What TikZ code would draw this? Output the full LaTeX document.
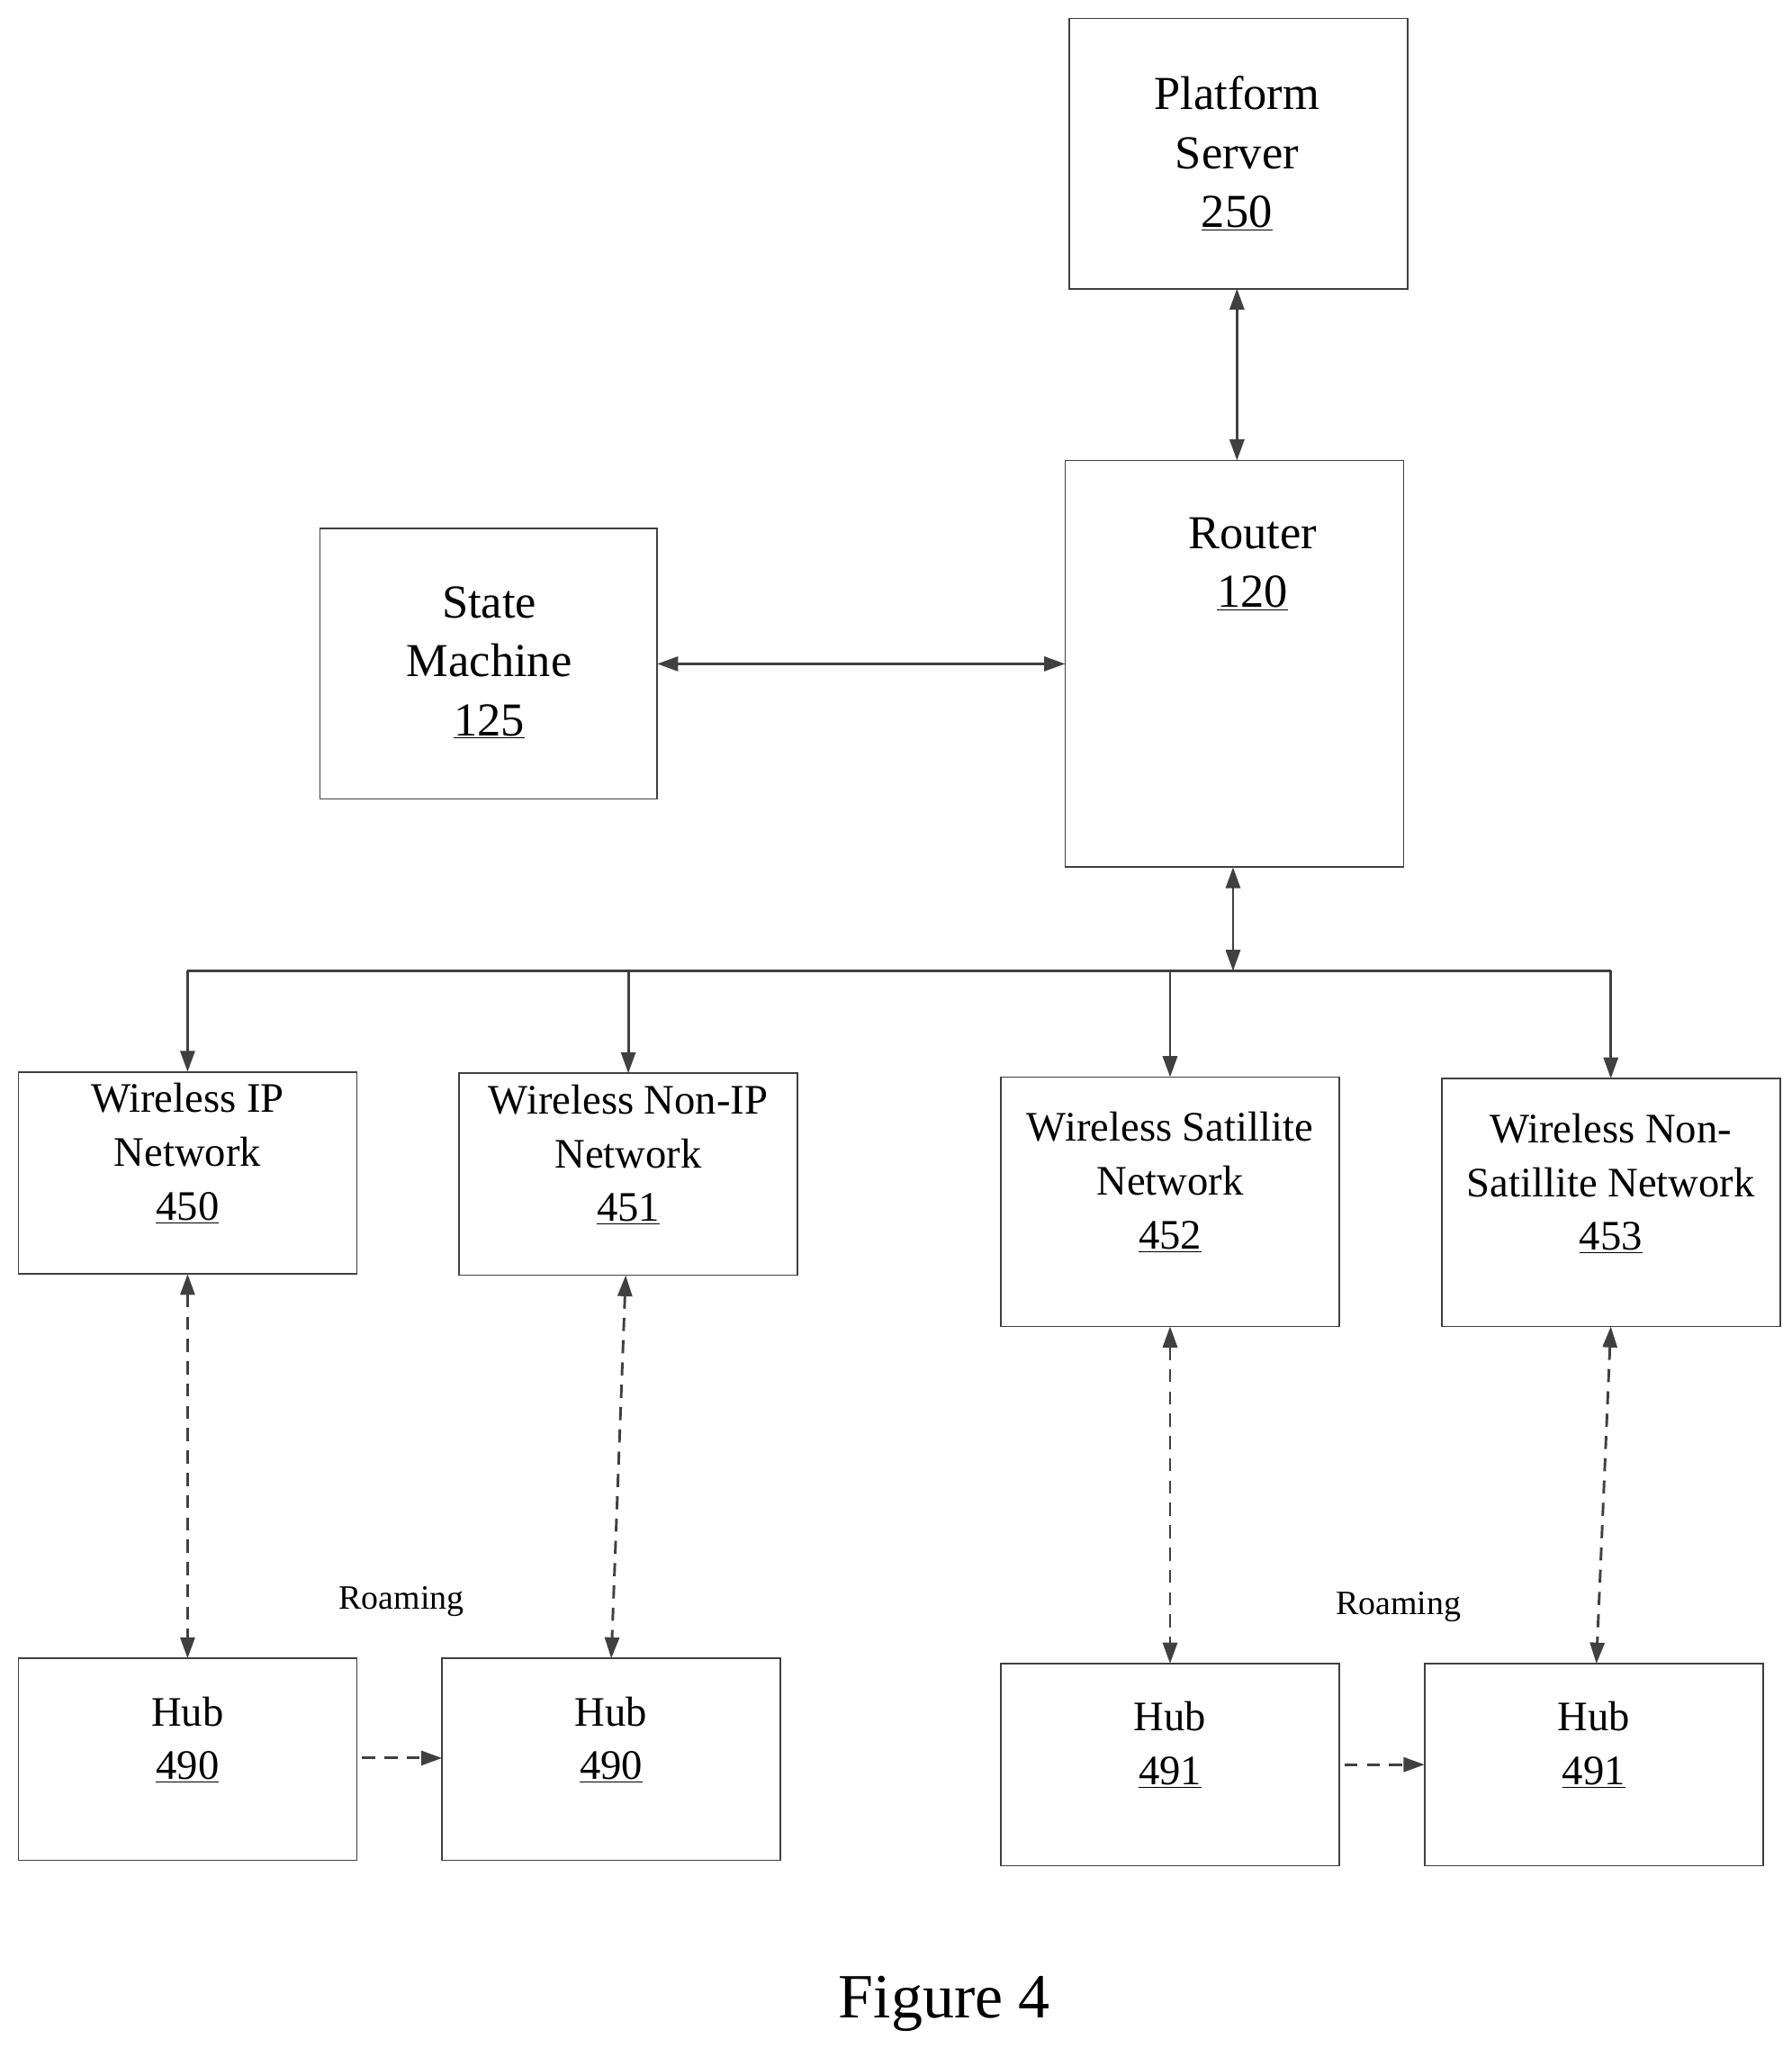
\documentclass[tikz,border=0pt]{standalone}
\usepackage{fontspec}
\setmainfont{Liberation Serif}
\usetikzlibrary{arrows.meta}
\begin{document}
\begin{tikzpicture}[x=1pt,y=-1pt,
 box/.style={draw=black!75,line width=1.2pt},
 lbl/.style={align=center,font=\fontsize{36}{48}\selectfont,inner sep=0},
 con/.style={draw=black!75,line width=2pt,-{Triangle[length=16pt,width=11pt]}},
 dcon/.style={con,{Triangle[length=16pt,width=11pt]}-{Triangle[length=16pt,width=11pt]},dash pattern=on 10pt off 7pt}]
\useasboundingbox (0,0) rectangle (1366,1561);
\newcommand{\bx}[5]{\path[box] (#2,#3) rectangle (#4,#5); \coordinate (#1) at ({(#2+#4)/2},{(#3+#5)/2});}
\bx{ps}{815}{14}{1073}{220}
\bx{rt}{812}{351}{1070}{661}
\bx{sm}{244}{403}{501}{609}
\bx{n0}{14}{817}{272}{971}
\bx{n1}{350}{818}{608}{972}
\bx{n2}{763}{821}{1021}{1011}
\bx{n3}{1099}{822}{1357}{1011}
\bx{h0}{14}{1264}{272}{1418}
\bx{h1}{337}{1264}{595}{1418}
\bx{h2}{763}{1268}{1021}{1422}
\bx{h3}{1086}{1268}{1344}{1422}
\node[lbl] (tps) at (943,117) {Platform\\[-3pt]Server\\[-3pt]\underline{250}};
\node[lbl] (trt) at (955,430) {Router\\[-3pt]\underline{120}};
\node[lbl] (tsm) at (373,505) {State\\[-3pt]Machine\\[-3pt]\underline{125}};
\node[lbl,font=\fontsize{32}{41}\selectfont] (t0) at (143,879) {Wireless IP\\Network\\\underline{450}};
\node[lbl,font=\fontsize{32}{41}\selectfont] (t1) at (479,880) {Wireless Non-IP\\Network\\\underline{451}};
\node[lbl,font=\fontsize{32}{41}\selectfont] (t2) at (892,901) {Wireless Satillite\\Network\\\underline{452}};
\node[lbl,font=\fontsize{32}{41}\selectfont] (t3) at (1228,902) {Wireless Non-\\Satillite Network\\\underline{453}};
\node[lbl,font=\fontsize{32}{41}\selectfont] (u0) at (143,1326) {Hub\\\underline{490}};
\node[lbl,font=\fontsize{32}{41}\selectfont] (u1) at (466,1326) {Hub\\\underline{490}};
\node[lbl,font=\fontsize{32}{41}\selectfont] (u2) at (892,1330) {Hub\\\underline{491}};
\node[lbl,font=\fontsize{32}{41}\selectfont] (u3) at (1215,1330) {Hub\\\underline{491}};
\node[font=\fontsize{26}{30}\selectfont] (r0) at (306,1221) {Roaming};
\node[font=\fontsize{26}{30}\selectfont] (r1) at (1066,1225) {Roaming};
\node[font=\fontsize{48}{56}\selectfont] (fig) at (720,1527) {Figure 4};
\coordinate (bl) at (143,740); \coordinate (br) at (1228,740);
\coordinate (b1) at (479,740); \coordinate (b2) at (892,740); \coordinate (bm) at (940,740);
\draw[draw=black!75,line width=2pt] (bl) -- (br);
\draw[con,{Triangle[length=16pt,width=11pt]}-{Triangle[length=16pt,width=11pt]}] (943,220) -- (943,351);
\draw[con,{Triangle[length=16pt,width=11pt]}-{Triangle[length=16pt,width=11pt]}] (501,506) -- (812,506);
\draw[con,{Triangle[length=16pt,width=11pt]}-{Triangle[length=16pt,width=11pt]}] (940,661) -- (bm);
\draw[con] (bl) -- (143,817);
\draw[con] (b1) -- (479,818);
\draw[con] (b2) -- (892,821);
\draw[con] (br) -- (1228,822);
\draw[dcon] (143,971) -- (143,1264);
\draw[dcon] (477,972) -- (466,1264);
\draw[dcon] (892,1011) -- (892,1268);
\draw[dcon] (1228,1011) -- (1217,1268);
\draw[con,dash pattern=on 10pt off 7pt] (276,1340) -- (337,1340);
\draw[con,dash pattern=on 10pt off 7pt] (1025,1345) -- (1086,1345);
\end{tikzpicture}
\end{document}
